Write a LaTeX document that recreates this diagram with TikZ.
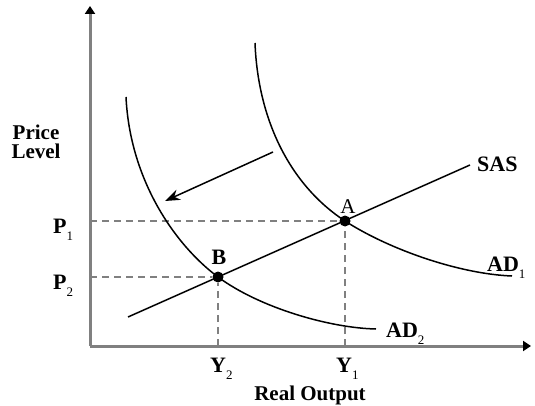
\documentclass[tikz,border=0pt]{standalone}
\usepackage{fontspec}
\setmainfont{Liberation Serif}
\usepackage{tikz}
\usetikzlibrary{arrows.meta,positioning}
\definecolor{axisgrey}{RGB}{128,128,128}
\newcommand\lowsub[1]{\raisebox{-0.75ex}{\fontsize{13}{13}\selectfont\mdseries #1}}
\tikzset{
  axis/.style={draw=axisgrey,line width=3pt,
               -{Triangle[length=8pt,width=10pt,black]}},
  guide/.style={draw=axisgrey,line width=2.2pt,dash pattern=on 7pt off 5pt},
  curve/.style={black,line width=1.5pt},
  movearrow/.style={black,line width=1.5pt,-{Stealth[length=15pt,width=11pt]}},
  dot/.style={circle,fill=black,inner sep=0pt,minimum size=11pt},
  lbl/.style={font=\fontsize{22}{24}\selectfont\bfseries,inner sep=0pt,anchor=base},
  ttl/.style={font=\fontsize{21}{21}\selectfont\bfseries,inner sep=0pt,anchor=base},
}

\begin{document}
\begin{tikzpicture}[x=1pt,y=-1pt]
    \useasboundingbox (0,0) rectangle (535,406);
    % axes
    \coordinate (o) at (90,346);
    \coordinate (ytop) at (90,6);
    \coordinate (xend) at (531,346);
    \draw[axis] (o) -- (ytop);
    \draw[axis] (o) -- (xend);
    % equilibrium points
    \node[dot] (A) at (345,221) {};
    \node[dot] (B) at (218,277) {};
    \coordinate (p1) at (90,221);
    \coordinate (p2) at (90,277);
    \coordinate (y1) at (345,346);
    \coordinate (y2) at (218,346);
    \draw[guide] (p1) -- (A);
    \draw[guide] (p2) -- (B);
    \draw[guide] (y1) -- (A);
    \draw[guide] (y2) -- (B);
    % curves
    \coordinate (sas0) at (128,317);
    \coordinate (sas1) at (470,165);
    \coordinate (ad1a) at (255,43);
    \coordinate (ad1b) at (512,276);
    \coordinate (ad2a) at (126,97);
    \coordinate (ad2b) at (376,329);
    \draw[curve] (sas0) -- (sas1);
    \draw[curve] (ad1a) .. controls (258,120) and (290,185) .. (A.center)
      .. controls (390,250) and (460,274) .. (ad1b);
    \draw[curve] (ad2a) .. controls (130,180) and (175,245) .. (B.center)
      .. controls (260,308) and (330,328) .. (ad2b);
    % shift of demand
    \coordinate (s0) at (273,152);
    \coordinate (s1) at (165,201);
    \draw[movearrow] (s0) -- (s1);
    % labels
    \node[ttl] (price) at (36,140) {Price};
    \node[ttl] (level) at (36,159) {Level};
    \node[lbl,anchor=base west] (lp1) at (53,233) {P\lowsub{1}};
    \node[lbl,anchor=base west] (lp2) at (53,289) {P\lowsub{2}};
    \node[lbl,anchor=base west] (ly2) at (210,372) {Y\lowsub{2}};
    \node[lbl,anchor=base west] (ly1) at (336,372) {Y\lowsub{1}};
    \node[ttl] (rout) at (310,400) {Real Output};
    \node[lbl,font=\fontsize{21}{22}\selectfont] (la) at (348,213) {A};
    \node[lbl] (lb) at (219,264) {B};
    \node[lbl,anchor=base west] (lsas) at (477,172) {SAS};
    \node[lbl,anchor=base west] (lad1) at (487,271) {AD\lowsub{1}};
    \node[lbl,anchor=base west] (lad2) at (386,337) {AD\lowsub{2}};
  \end{tikzpicture}
\end{document}
